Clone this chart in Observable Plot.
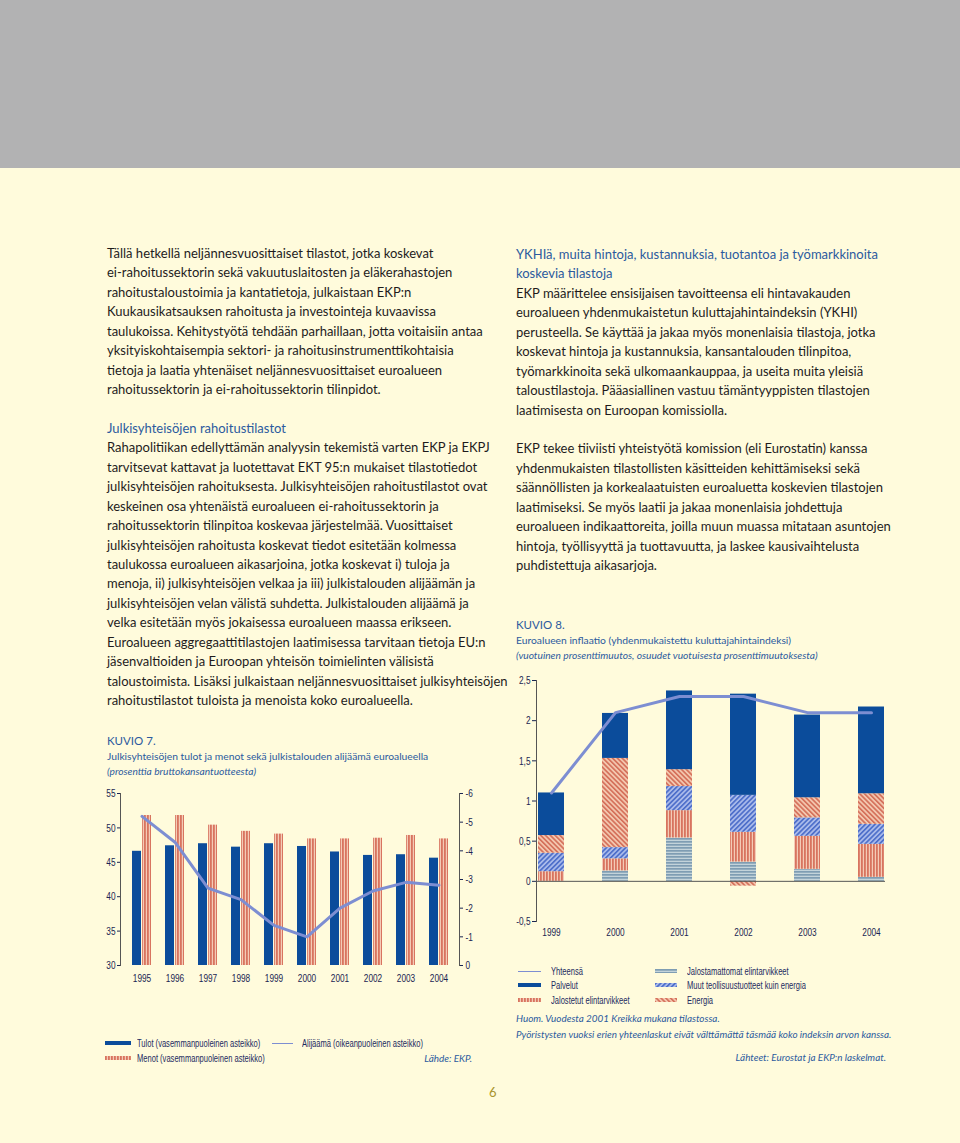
<!DOCTYPE html>
<html><head><meta charset="utf-8">
<script src="https://cdn.jsdelivr.net/npm/d3@7"></script>
<script src="https://cdn.jsdelivr.net/npm/@observablehq/plot@0.6"></script>
<style>
html,body{margin:0;padding:0;}
body{width:960px;height:1143px;background:#fffbdc;position:relative;overflow:hidden;font-family:Lato,"Open Sans",sans-serif;}
#band{position:absolute;left:0;top:0;width:960px;height:168px;background:#b2b2b3;}
.col{position:absolute;font-size:13px;line-height:19.45px;color:#1e1b1c;white-space:nowrap;}
.col div{height:19.45px;}
.h{color:#2b5a9e;}
.abs{position:absolute;white-space:nowrap;}
.kt{font-size:11.5px;line-height:14px;color:#2b5a9e;}
.ks{font-size:10.3px;line-height:14px;color:#2b5a9e;}
.ki{font-size:10.2px;line-height:14px;color:#2b5a9e;font-style:italic;}
.lg{font-family:"Liberation Sans",Arial,sans-serif;font-size:10.8px;line-height:12px;color:#1c2a60;transform:scaleX(0.7);transform-origin:0 50%;}
.note{font-size:9.9px;line-height:14px;color:#2b5a9e;font-style:italic;}
.chart{position:absolute;}
</style></head>
<body>
<svg width="0" height="0" style="position:absolute;left:0;top:0">
<defs>
<pattern id="pVred" patternUnits="userSpaceOnUse" width="3" height="3"><rect width="3" height="3" fill="#f4cbb6"/><rect width="1.8" height="3" fill="#d8745f"/></pattern>
<pattern id="pHgrey" patternUnits="userSpaceOnUse" width="3" height="3"><rect width="3" height="3" fill="#c3d3da"/><rect width="3" height="1.7" fill="#7f9db3"/></pattern>
<pattern id="pDblue" patternUnits="userSpaceOnUse" width="3.4" height="3.4" patternTransform="rotate(45)"><rect width="3.4" height="3.4" fill="#a9baea"/><rect width="1.6" height="3.4" fill="#4a6cc9"/></pattern>
<pattern id="pDred" patternUnits="userSpaceOnUse" width="3.4" height="3.4" patternTransform="rotate(-45)"><rect width="3.4" height="3.4" fill="#f3c6ae"/><rect width="1.6" height="3.4" fill="#d46e58"/></pattern>
</defs></svg>
<div id="band"></div>

<div class="col" style="left:107px;top:244px">
<div>Tällä hetkellä neljännesvuosittaiset tilastot, jotka koskevat</div>
<div>ei-rahoitussektorin sekä vakuutuslaitosten ja eläkerahastojen</div>
<div>rahoitustaloustoimia ja kantatietoja, julkaistaan EKP:n</div>
<div>Kuukausikatsauksen rahoitusta ja investointeja kuvaavissa</div>
<div>taulukoissa. Kehitystyötä tehdään parhaillaan, jotta voitaisiin antaa</div>
<div>yksityiskohtaisempia sektori- ja rahoitusinstrumenttikohtaisia</div>
<div>tietoja ja laatia yhtenäiset neljännesvuosittaiset euroalueen</div>
<div>rahoitussektorin ja ei-rahoitussektorin tilinpidot.</div>
<div></div>
<div class="h">Julkisyhteisöjen rahoitustilastot</div>
<div>Rahapolitiikan edellyttämän analyysin tekemistä varten EKP ja EKPJ</div>
<div>tarvitsevat kattavat ja luotettavat EKT 95:n mukaiset tilastotiedot</div>
<div>julkisyhteisöjen rahoituksesta. Julkisyhteisöjen rahoitustilastot ovat</div>
<div>keskeinen osa yhtenäistä euroalueen ei-rahoitussektorin ja</div>
<div>rahoitussektorin tilinpitoa koskevaa järjestelmää. Vuosittaiset</div>
<div>julkisyhteisöjen rahoitusta koskevat tiedot esitetään kolmessa</div>
<div>taulukossa euroalueen aikasarjoina, jotka koskevat i) tuloja ja</div>
<div>menoja, ii) julkisyhteisöjen velkaa ja iii) julkistalouden alijäämän ja</div>
<div>julkisyhteisöjen velan välistä suhdetta. Julkistalouden alijäämä ja</div>
<div>velka esitetään myös jokaisessa euroalueen maassa erikseen.</div>
<div>Euroalueen aggregaattitilastojen laatimisessa tarvitaan tietoja EU:n</div>
<div>jäsenvaltioiden ja Euroopan yhteisön toimielinten välisistä</div>
<div>taloustoimista. Lisäksi julkaistaan neljännesvuosittaiset julkisyhteisöjen</div>
<div>rahoitustilastot tuloista ja menoista koko euroalueella.</div>
</div>

<div class="col" style="left:516px;top:245px">
<div class="h">YKHIä, muita hintoja, kustannuksia, tuotantoa ja työmarkkinoita</div>
<div class="h">koskevia tilastoja</div>
<div>EKP määrittelee ensisijaisen tavoitteensa eli hintavakauden</div>
<div>euroalueen yhdenmukaistetun kuluttajahintaindeksin (YKHI)</div>
<div>perusteella. Se käyttää ja jakaa myös monenlaisia tilastoja, jotka</div>
<div>koskevat hintoja ja kustannuksia, kansantalouden tilinpitoa,</div>
<div>työmarkkinoita sekä ulkomaankauppaa, ja useita muita yleisiä</div>
<div>taloustilastoja. Pääasiallinen vastuu tämäntyyppisten tilastojen</div>
<div>laatimisesta on Euroopan komissiolla.</div>
<div></div>
<div>EKP tekee tiiviisti yhteistyötä komission (eli Eurostatin) kanssa</div>
<div>yhdenmukaisten tilastollisten käsitteiden kehittämiseksi sekä</div>
<div>säännöllisten ja korkealaatuisten euroaluetta koskevien tilastojen</div>
<div>laatimiseksi. Se myös laatii ja jakaa monenlaisia johdettuja</div>
<div>euroalueen indikaattoreita, joilla muun muassa mitataan asuntojen</div>
<div>hintoja, työllisyyttä ja tuottavuutta, ja laskee kausivaihtelusta</div>
<div>puhdistettuja aikasarjoja.</div>
</div>

<div class="abs kt" style="left:107px;top:734px">KUVIO 7.</div>
<div class="abs ks" style="left:107px;top:749px">Julkisyhteisöjen tulot ja menot sekä julkistalouden alijäämä euroalueella</div>
<div class="abs ki" style="left:107px;top:764px">(prosenttia bruttokansantuotteesta)</div>
<div id="c1" class="chart" style="left:0px;top:780px"></div>

<div class="abs" style="left:105px;top:1041px;width:26px;height:4px;background:#0b4c9b"></div>
<svg class="abs" style="left:105px;top:1056px" width="26" height="4"><rect width="26" height="4" fill="url(#pVred)"/></svg>
<div class="abs" style="left:272px;top:1042.5px;width:21px;height:1.2px;background:#7d8ed2"></div>
<div class="abs lg" style="left:137px;top:1037px">Tulot (vasemmanpuoleinen asteikko)</div>
<div class="abs lg" style="left:137px;top:1052px">Menot (vasemmanpuoleinen asteikko)</div>
<div class="abs lg" style="left:302px;top:1037px">Alijäämä (oikeanpuoleinen asteikko)</div>
<div class="abs note" style="right:488px;top:1051px">Lähde: EKP.</div>

<div class="abs kt" style="left:516px;top:618px">KUVIO 8.</div>
<div class="abs ks" style="left:516px;top:633px">Euroalueen inflaatio (yhdenmukaistettu kuluttajahintaindeksi)</div>
<div class="abs ki" style="left:516px;top:648px">(vuotuinen prosenttimuutos, osuudet vuotuisesta prosenttimuutoksesta)</div>
<div id="c2" class="chart" style="left:480px;top:670px"></div>

<div class="abs" style="left:518px;top:971px;width:23px;height:1.2px;background:#7d8ed2"></div>
<div class="abs" style="left:518px;top:983px;width:23px;height:4px;background:#0b4c9b"></div>
<svg class="abs" style="left:518px;top:998px" width="23" height="4"><rect width="23" height="4" fill="url(#pVred)"/></svg>
<svg class="abs" style="left:655px;top:969px" width="22" height="4"><rect width="22" height="4" fill="url(#pHgrey)"/></svg>
<svg class="abs" style="left:655px;top:983px" width="22" height="4"><rect width="22" height="4" fill="url(#pDblue)"/></svg>
<svg class="abs" style="left:655px;top:998px" width="22" height="4"><rect width="22" height="4" fill="url(#pDred)"/></svg>
<div class="abs lg" style="left:551px;top:965px">Yhteensä</div>
<div class="abs lg" style="left:551px;top:979px">Palvelut</div>
<div class="abs lg" style="left:551px;top:994px">Jalostetut elintarvikkeet</div>
<div class="abs lg" style="left:687px;top:965px">Jalostamattomat elintarvikkeet</div>
<div class="abs lg" style="left:687px;top:979px">Muut teollisuustuotteet kuin energia</div>
<div class="abs lg" style="left:687px;top:994px">Energia</div>
<div class="abs note" style="left:516px;top:1011px">Huom. Vuodesta 2001 Kreikka mukana tilastossa.</div>
<div class="abs note" style="left:516px;top:1027px">Pyöristysten vuoksi erien yhteenlaskut eivät välttämättä täsmää koko indeksin arvon kanssa.</div>
<div class="abs note" style="right:74px;top:1050px">Lähteet: Eurostat ja EKP:n laskelmat.</div>

<div class="abs" style="left:489px;top:1084px;font-size:13px;color:#a8942c">6</div>

<script>
// ---- Kuvio 7 data ----
const years1 = [1995, 1996, 1997, 1998, 1999, 2000, 2001, 2002, 2003, 2004];
const tulot = [46.6, 47.4, 47.7, 47.2, 47.7, 47.3, 46.5, 46.0, 46.1, 45.6];
const menot = [51.8, 51.8, 50.4, 49.5, 49.1, 48.4, 48.4, 48.5, 48.9, 48.4];
const alijaama = [-5.2, -4.3, -2.7, -2.3, -1.4, -1.0, -2.0, -2.6, -2.9, -2.8];
const leftTicks = [30, 35, 40, 45, 50, 55];
const rightTicks = [0, -1, -2, -3, -4, -5, -6];

// ---- Kuvio 8 data ----
const years2 = [1999, 2000, 2001, 2002, 2003, 2004];
const series2 = ["Jalostamattomat elintarvikkeet", "Jalostetut elintarvikkeet", "Muut teollisuustuotteet kuin energia", "Energia", "Palvelut"];
const jalostamattomat = [0.00, 0.13, 0.54, 0.24, 0.15, 0.05];
const jalostetut = [0.12, 0.15, 0.34, 0.37, 0.41, 0.41];
const muut = [0.23, 0.14, 0.30, 0.46, 0.23, 0.25];
const energia = [0.22, 1.11, 0.21, -0.06, 0.25, 0.38];
const palvelut = [0.53, 0.56, 0.98, 1.26, 1.03, 1.08];
const yhteensa = [1.1, 2.1, 2.3, 2.3, 2.1, 2.1];
const ticks2 = [-0.5, 0, 0.5, 1, 1.5, 2, 2.5];
const seriesFills = ["url(#pHgrey)", "url(#pVred)", "url(#pDblue)", "url(#pDred)", "#0b4c9b"];

const FONT = '"Liberation Sans",Arial,sans-serif';
const INK = "#1a2552";

// narrow the tick labels to mimic a condensed face
function condense(svg, k) {
  d3.select(svg).selectAll("g[aria-label$='tick label'] text").each(function() {
    const t = this.getAttribute("transform") || "";
    this.setAttribute("transform", t + ` scale(${k},1)`);
  });
  return svg;
}

// Chart 1
const d1 = years1.map((y, i) => ({year: y, tulot: tulot[i], menot: menot[i], ali: alijaama[i]}));
const toLeft = v => 30 - v * 25 / 6;
const fmtR = v => { const r = Math.round((30 - v) * 6 / 25); return r < 0 ? "-" + (-r) : String(r); };
const p1 = Plot.plot({
  width: 480, height: 210, marginLeft: 120, marginRight: 21, marginTop: 13, marginBottom: 25,
  style: {fontFamily: FONT, fontSize: "11.5px", color: INK, background: "transparent", overflow: "visible"},
  x: {type: "band", domain: years1, padding: 0},
  y: {domain: [30, 55]},
  marks: [
    Plot.barY(d1, {x: "year", y1: 30, y2: "tulot", fill: "#0b4c9b", insetLeft: 7, insetRight: 17}),
    Plot.barY(d1, {x: "year", y1: 30, y2: "menot", fill: "url(#pVred)", insetLeft: 17, insetRight: 7}),
    Plot.line(d1, {x: "year", y: d => toLeft(d.ali), stroke: "#7d8ed2", strokeWidth: 3}),
    Plot.axisX({tickSize: 0, tickPadding: 8, label: null, tickFormat: d => String(d)}),
    Plot.axisY({anchor: "left", ticks: leftTicks, tickSize: 3, tickPadding: 2, label: null, tickFormat: d => String(d)}),
    Plot.axisY({anchor: "right", ticks: rightTicks.map(toLeft), tickFormat: fmtR, tickSize: 3, tickPadding: 3, label: null}),
    Plot.frame({anchor: "left", stroke: "#555"}),
    Plot.frame({anchor: "right", stroke: "#555"})
  ]
});
document.getElementById("c1").appendChild(condense(p1, 0.72));

// Chart 2
const vals2 = [jalostamattomat, jalostetut, muut, energia, palvelut];
const d2 = [];
series2.forEach((s, k) => years2.forEach((y, i) => d2.push({year: y, series: s, value: vals2[k][i]})));
const tot = years2.map((y, i) => ({year: y, v: yhteensa[i]}));
const p2 = Plot.plot({
  width: 480, height: 280, marginLeft: 56, marginRight: 75, marginTop: 10, marginBottom: 29,
  style: {fontFamily: FONT, fontSize: "11.5px", color: INK, background: "transparent", overflow: "visible"},
  x: {type: "band", domain: years2, paddingInner: 0.6, paddingOuter: 0},
  y: {domain: [-0.5, 2.5]},
  color: {domain: series2, range: seriesFills},
  marks: [
    Plot.barY(d2, {x: "year", y: "value", fill: "series"}),
    Plot.ruleY([0], {stroke: "#555"}),
    Plot.line(tot, {x: "year", y: "v", stroke: "#7d8ed2", strokeWidth: 3}),
    Plot.axisX({tickSize: 0, tickPadding: 6, label: null, tickFormat: d => String(d)}),
    Plot.axisY({ticks: ticks2, tickFormat: d => String(d).replace(".", ","), tickSize: 4, tickPadding: 2, label: null}),
    Plot.frame({anchor: "left", stroke: "#555"})
  ]
});
document.getElementById("c2").appendChild(condense(p2, 0.72));
</script>
</body></html>
